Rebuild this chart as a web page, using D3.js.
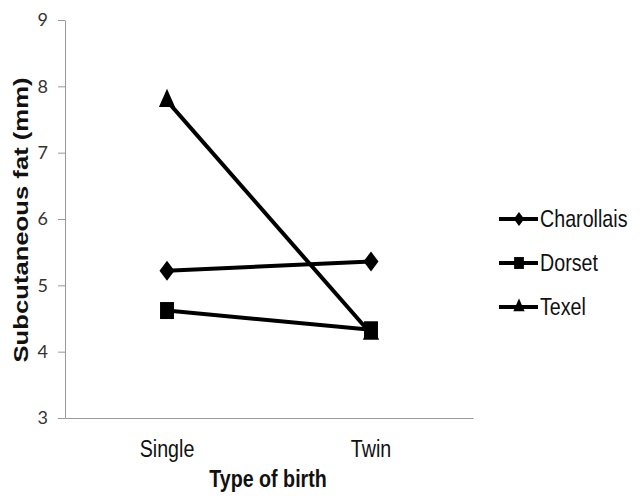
<!DOCTYPE html>
<html>
<head>
<meta charset="utf-8">
<script src="https://cdn.jsdelivr.net/npm/d3@7"></script>
<style>
  body { margin: 0; background: #fff; }
</style>
</head>
<body>
<div id="chart"></div>
<script>
// data
var births = ["Single", "Twin"];
var breeds = ["Charollais", "Dorset", "Texel"];
var charollaisFat = [5.22, 5.36];
var dorsetFat = [4.62, 4.33];
var texelFat = [7.78, 4.27];
var yTicks = [3, 4, 5, 6, 7, 8, 9];

var series = [
  { name: breeds[0], values: charollaisFat, marker: "diamond" },
  { name: breeds[1], values: dorsetFat, marker: "square" },
  { name: breeds[2], values: texelFat, marker: "triangle" }
];

var width = 643, height = 500;
var squish = 0.82; // the original picture is narrowed a bit horizontally
var font = "'Liberation Sans', Arial, sans-serif";

var svg = d3.select("#chart")
  .append("svg")
  .attr("width", width)
  .attr("height", height);

var x = d3.scaleBand().domain(births).range([65, 473]);
var y = d3.scaleLinear().domain([3, 9]).range([418, 20]);

// y axis
var yAxis = svg.append("g")
  .attr("transform", "translate(65,0)")
  .call(d3.axisLeft(y).tickValues(yTicks).tickFormat(d3.format("d"))
    .tickSize(7).tickPadding(10).tickSizeOuter(0));
yAxis.select(".domain").attr("stroke", "#999");
yAxis.selectAll(".tick line").attr("stroke", "#999");
yAxis.selectAll(".tick text")
  .attr("font-family", "Lato, 'Open Sans', sans-serif")
  .attr("font-size", 18)
  .attr("fill", "#333");

// x axis
var xAxis = svg.append("g")
  .attr("transform", "translate(0,418)")
  .call(d3.axisBottom(x).tickSize(0).tickPadding(0));
xAxis.select(".domain").attr("stroke", "#999");
xAxis.selectAll(".tick text")
  .attr("dy", 0)
  .attr("y", 0)
  .attr("transform", "translate(0,39) scale(" + squish + ",1)")
  .attr("font-family", font)
  .attr("font-size", 24)
  .attr("fill", "#111");

// axis titles
svg.append("text")
  .attr("transform", "translate(28,220) scale(" + squish + ",1) rotate(-90)")
  .attr("text-anchor", "middle")
  .attr("font-family", font)
  .attr("font-weight", "bold")
  .attr("font-size", 24)
  .attr("textLength", 285)
  .attr("lengthAdjust", "spacingAndGlyphs")
  .attr("fill", "#111")
  .text("Subcutaneous fat (mm)");

svg.append("text")
  .attr("transform", "translate(268,487) scale(" + squish + ",1)")
  .attr("text-anchor", "middle")
  .attr("font-family", font)
  .attr("font-weight", "bold")
  .attr("font-size", 24)
  .attr("fill", "#111")
  .text("Type of birth");

var cx = function(i) { return x(births[i]) + x.bandwidth() / 2; };

var line = d3.line()
  .x(function(d, i) { return cx(i); })
  .y(function(d) { return y(d); });

// marker shapes, narrowed like the rest of the picture
function markerPath(type, k) {
  if (type == "diamond") return d3.symbol().type(d3.symbolSquare).size(200 * k * k)();
  if (type == "square") return d3.symbol().type(d3.symbolSquare).size(289 * k * k)();
  return d3.symbol().type(d3.symbolTriangle).size(156 * k * k)();
}
function markerTransform(type) {
  if (type == "diamond") return " scale(0.75,1) rotate(45)";
  if (type == "square") return " scale(" + squish + ",1)";
  return " scale(0.85,1.1)";
}

// Texel first so Dorset's square sits over its twin point
var drawOrder = [series[2], series[0], series[1]];

drawOrder.forEach(function(s) {
  svg.append("path")
    .datum(s.values)
    .attr("d", line)
    .attr("fill", "none")
    .attr("stroke", "#000")
    .attr("stroke-width", 4);

  svg.selectAll(".pt-" + s.name)
    .data(s.values)
    .enter()
    .append("path")
    .attr("class", "pt-" + s.name)
    .attr("transform", function(d, i) {
      return "translate(" + cx(i) + "," + y(d) + ")" + markerTransform(s.marker);
    })
    .attr("d", markerPath(s.marker, 1))
    .attr("fill", "#000");
});

// legend
var legend = svg.selectAll(".legend")
  .data(series)
  .enter()
  .append("g")
  .attr("class", "legend")
  .attr("transform", function(d, i) { return "translate(499," + (219 + i * 44) + ")"; });

legend.append("line")
  .attr("x1", 0)
  .attr("x2", 39)
  .attr("stroke", "#000")
  .attr("stroke-width", 4);

legend.append("path")
  .attr("transform", function(d) { return "translate(20,0)" + markerTransform(d.marker); })
  .attr("d", function(d) { return markerPath(d.marker, 0.7); })
  .attr("fill", "#000");

legend.append("text")
  .attr("transform", "translate(41,8) scale(" + squish + ",1)")
  .attr("font-family", font)
  .attr("font-size", 24)
  .attr("fill", "#111")
  .text(function(d) { return d.name; });
</script>
</body>
</html>
